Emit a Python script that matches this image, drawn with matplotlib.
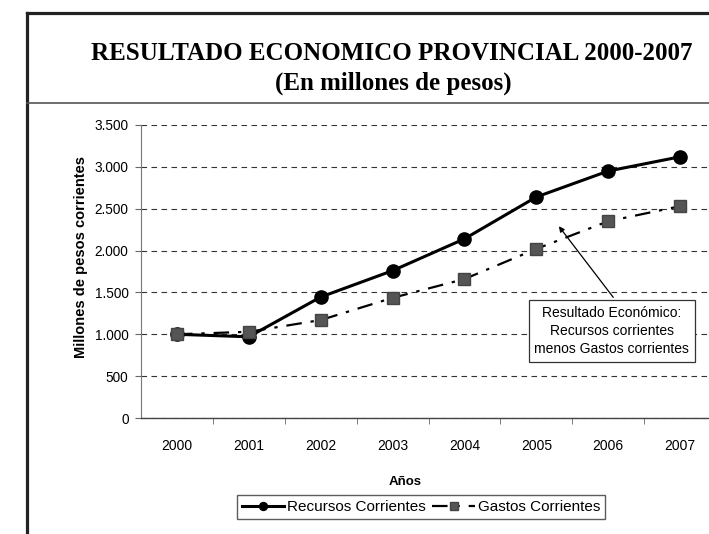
import matplotlib.pyplot as plt
from matplotlib.lines import Line2D
from matplotlib.ticker import FuncFormatter, FixedLocator

# data (millones de pesos)
anios = ['2000', '2001', '2002', '2003', '2004', '2005', '2006', '2007']
recursos = [1000, 970, 1445, 1760, 2140, 2640, 2950, 3120]
gastos = [1000, 1030, 1170, 1435, 1660, 2020, 2350, 2530]

titulo = 'RESULTADO ECONOMICO PROVINCIAL 2000-2007'
subtitulo = '(En millones de pesos)'
nota = 'Resultado Económico:\nRecursos corrientes\nmenos Gastos corrientes'

plt.rcParams['font.family'] = ['Liberation Sans', 'DejaVu Sans']

fig = plt.figure(figsize=(7.09, 5.34), dpi=100)
W, H = 709.0, 534.0

# outer frame and separator under the title
fig.add_artist(Line2D([27/W, 27/W], [0, 1 - 13/H], color='#222222', lw=2.3))
fig.add_artist(Line2D([27/W, 1], [1 - 13/H, 1 - 13/H], color='#222222', lw=2.3))
fig.add_artist(Line2D([27/W, 1], [1 - 103/H, 1 - 103/H], color='#555555', lw=1.2))

fig.text(392/W, 1 - 54/H, titulo, ha='center', va='center',
         family='Liberation Serif', weight='bold', fontsize=18)
fig.text(393/W, 1 - 83/H, subtitulo, ha='center', va='center',
         family='Liberation Serif', weight='bold', fontsize=18)

ax = fig.add_axes([141/W, 1 - 418/H, 575/W, 293/H])
x = list(range(len(anios)))

ax.plot(x, recursos, color='black', lw=2.2, marker='o', ms=9.5,
        label='Recursos Corrientes', zorder=3)
ax.plot(x, gastos, color='black', lw=1.6, ls=(0, (7, 4, 1.5, 4)), marker='s',
        ms=8.5, mfc='#555555', mec='#444444', label='Gastos Corrientes', zorder=3)

ax.set_xlim(-0.5, 7.5)
ax.set_ylim(0, 3500)
ax.set_yticks(range(0, 3501, 500))
ax.yaxis.set_major_formatter(FuncFormatter(lambda v, p: f'{int(v):,}'.replace(',', '.')))
ax.set_xticks(x)
ax.set_xticklabels(anios)
ax.xaxis.set_minor_locator(FixedLocator([i + 0.5 for i in range(7)]))
ax.tick_params(axis='x', which='major', length=0, pad=15, labelsize=10)
ax.tick_params(axis='x', which='minor', length=4, color='#666666')
ax.tick_params(axis='y', length=4, color='#666666', pad=5, labelsize=9.8)

ax.grid(axis='y', color='#333333', lw=0.8, ls=(0, (5, 4)))
ax.set_axisbelow(True)
for s in ['top', 'right']:
    ax.spines[s].set_visible(False)
ax.spines['left'].set_color('#777777')
ax.spines['left'].set_linewidth(0.8)
ax.spines['bottom'].set_color('#444444')
ax.spines['bottom'].set_linewidth(1.0)

ax.set_ylabel('Millones de pesos corrientes', fontsize=10.5, weight='bold')
ax.yaxis.set_label_coords(-0.092, 0.55)
ax.set_xlabel('Años', fontsize=9.5, weight='bold')
ax.xaxis.set_label_coords(0.459, -0.198)

ax.annotate(nota, xy=(5.29, 2317), xytext=(6.05, 1040), ha='center', va='center',
            fontsize=10, linespacing=1.4,
            bbox=dict(boxstyle='square,pad=0.4', fc='white', ec='#333333', lw=0.9),
            arrowprops=dict(arrowstyle='-|>', color='black', lw=0.9,
                            mutation_scale=8, relpos=(0.55, 1.0)))

fig.legend(loc='center', bbox_to_anchor=(421/W, 1 - 507/H), ncol=2, fontsize=11,
           frameon=True, fancybox=False, edgecolor='#333333', handlelength=2.8,
           markerscale=0.6, columnspacing=0.4, handletextpad=0.2, borderpad=0.3,
           borderaxespad=0)

fig.savefig('out.png', dpi=100)
